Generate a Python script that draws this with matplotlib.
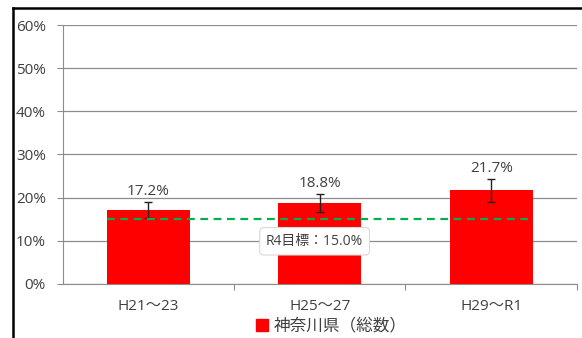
import matplotlib
matplotlib.use("Agg")
from matplotlib import pyplot as plt
from matplotlib.lines import Line2D
import numpy as np

plt.rcParams['font.family'] = ['Open Sans', 'Noto Sans CJK JP', 'DejaVu Sans']

# データ
categories = ["H21～23", "H25～27", "H29～R1"]
values = [17.2, 18.8, 21.7]
errors = [1.8, 2.1, 2.7]
target = 15.0
target_label = "R4目標：15.0%"
legend_label = "神奈川県（総数）"
yticks = [0, 10, 20, 30, 40, 50, 60]

fig = plt.figure(figsize=(5.82, 3.38), dpi=100)
ax = fig.add_axes([0.1074, 0.1598, 0.8840, 0.7662])

x = np.arange(len(categories))
ax.bar(x, values, width=0.484, color="#ff0000", zorder=3)
ax.errorbar(x, values, yerr=errors, fmt="none", ecolor="#222222",
            elinewidth=1.0, capsize=3, capthick=1.0, zorder=4)

for xi, v, e in zip(x, values, errors):
    ax.annotate("{:.1f}%".format(v), (xi, v + e), xytext=(0, 2),
                textcoords="offset points", ha="center", va="bottom",
                fontsize=11, color="#404040", zorder=5)

# 目標ライン
ax.plot([x[0] - 0.242, x[-1] + 0.242], [target, target], color="#00b050",
        linestyle=(0, (3.5, 2.5)), linewidth=1.6, zorder=5)
ax.text(0.97, 9.9, target_label, ha="center", va="center", fontsize=10,
        color="#404040", zorder=6,
        bbox=dict(boxstyle="round,pad=0.45,rounding_size=0.3", fc="white",
                  ec="#d8d8d8", lw=0.8))

ax.set_xlim(-0.5, 2.5)
ax.set_ylim(0, 60)
ax.set_yticks(yticks)
ax.set_yticklabels(["{}%".format(t) for t in yticks], fontsize=11, color="#404040")
ax.yaxis.grid(True, color="#8c8c8c", linewidth=0.9, zorder=0)
ax.set_axisbelow(True)
ax.tick_params(axis="y", length=4, width=0.8, color="#8c8c8c", pad=8)

ax.set_xticks(x)
ax.set_xticklabels(categories, fontsize=11, color="#404040")
ax.set_xticks([0.5, 1.5, 2.5], minor=True)
ax.tick_params(axis="x", which="major", length=0, pad=11)
ax.tick_params(axis="x", which="minor", length=4, width=0.8, color="#8c8c8c")

for s in ["top", "right"]:
    ax.spines[s].set_visible(False)
for s in ["left", "bottom"]:
    ax.spines[s].set_color("#8c8c8c")
    ax.spines[s].set_linewidth(0.8)

handle = Line2D([], [], marker="s", color="#ff0000", linestyle="none", markersize=8)
fig.legend([handle], [legend_label], loc="center", bbox_to_anchor=(0.56, 0.033),
           frameon=False, fontsize=12, handletextpad=-0.3, labelcolor="#404040")

# 外枠
fig.add_artist(Line2D([0.022, 0.022], [0, 0.977], color="black", lw=1.8,
                      transform=fig.transFigure))
fig.add_artist(Line2D([0.022, 1.0], [0.977, 0.977], color="black", lw=1.8,
                      transform=fig.transFigure))

fig.savefig("out.png", dpi=100)
plt.close()
